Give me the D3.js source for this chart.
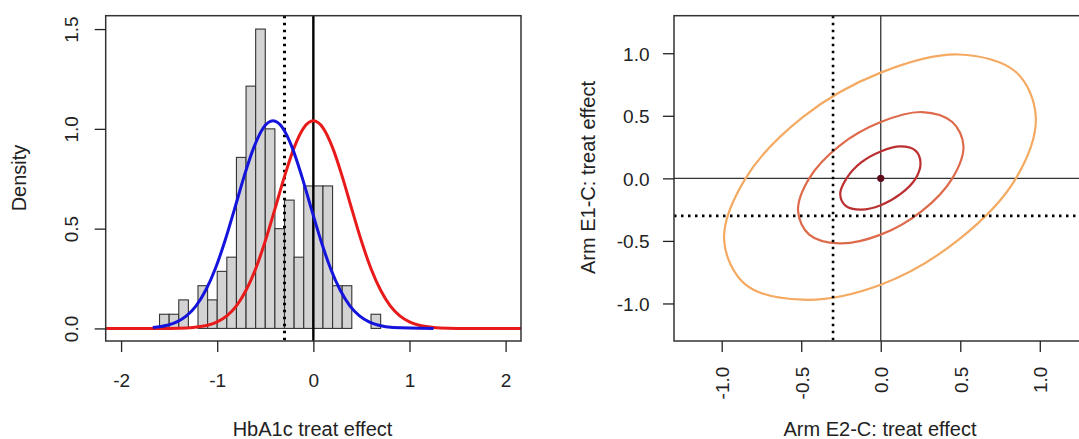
<!DOCTYPE html>
<html>
<head>
<meta charset="utf-8">
<script src="https://cdn.jsdelivr.net/npm/d3@7"></script>
<style>
  body { margin: 0; background: #fff; }
  svg { display: block; font-family: 'Liberation Sans', Arial, sans-serif; }
  .tick text { fill: #222; }
</style>
</head>
<body>
<div id="chart"></div>
<script>
// histogram of HbA1c treatment effect (bin width 0.1)
const binStarts = [-1.6, -1.5, -1.4, -1.3, -1.2, -1.1, -1.0, -0.9, -0.8, -0.7, -0.6, -0.5,
  -0.4, -0.3, -0.2, -0.1, 0.0, 0.1, 0.2, 0.3, 0.4, 0.5, 0.6];
const binDensity = [0.071, 0.071, 0.143, 0, 0.214, 0.143, 0.286, 0.357, 0.857, 1.214, 1.5, 1.0,
  0.5, 0.643, 0.357, 0.714, 0.714, 0.714, 0.214, 0.214, 0, 0, 0.071];
const binWidth = 0.1;

// blue density curve
const blueX = [-1.67, -1.52, -1.42, -1.32, -1.22, -1.12, -1.02, -0.92, -0.82, -0.72, -0.62, -0.52, -0.42,
  -0.32, -0.22, -0.12, -0.02, 0.08, 0.18, 0.28, 0.38, 0.48, 0.58, 0.68, 0.83, 1.25];
const blueY = [0.005, 0.016, 0.033, 0.063, 0.113, 0.191, 0.299, 0.438, 0.598, 0.762, 0.906, 1.005, 1.04,
  1.005, 0.906, 0.762, 0.598, 0.438, 0.299, 0.191, 0.113, 0.063, 0.033, 0.016, 0.005, 0.0];

// red density curve
const redX = [-2.16, -1.6, -1.4, -1.25, -1.1, -1.0, -0.9, -0.8, -0.7, -0.6, -0.5, -0.4, -0.3, -0.2, -0.1, 0,
  0.1, 0.2, 0.3, 0.4, 0.5, 0.6, 0.7, 0.8, 0.9, 1.0, 1.1, 1.25, 1.4, 1.6, 2.16];
const redY = [0, 0.0, 0.001, 0.005, 0.016, 0.033, 0.063, 0.113, 0.191, 0.299, 0.438, 0.598, 0.762, 0.906, 1.005, 1.04,
  1.005, 0.906, 0.762, 0.598, 0.438, 0.299, 0.191, 0.113, 0.063, 0.033, 0.016, 0.005, 0.001, 0.0, 0];

const histXTicks = [-2, -1, 0, 1, 2];
const histYTicks = [0, 0.5, 1.0, 1.5];
const histRefLines = { dotted: -0.3, solid: 0 };

// contour lines (E2-C on x, E1-C on y)
const outerX = [0.85, 0.49, 0, -0.49, -0.85, -0.985, -0.85, -0.49, 0, 0.49, 0.85, 0.975];
const outerY = [0.85, 0.99, 0.845, 0.49, 0, -0.49, -0.85, -0.97, -0.85, -0.49, 0, 0.49];
const middleX = [0.45, 0.26, 0, -0.26, -0.45, -0.52, -0.45, -0.26, 0, 0.26, 0.45, 0.52];
const middleY = [0.45, 0.53, 0.45, 0.26, 0, -0.26, -0.45, -0.52, -0.45, -0.26, 0, 0.26];
const innerX = [0.22, 0.125, 0, -0.125, -0.215, -0.255, -0.22, -0.125, 0, 0.125, 0.22, 0.25];
const innerY = [0.22, 0.255, 0.215, 0.125, 0, -0.125, -0.22, -0.25, -0.215, -0.125, 0, 0.125];
const contourColors = ['#f4aa62', '#de6a4c', '#bb2f30'];
const centerPoint = [0, 0];
const contourTicks = [-1.0, -0.5, 0.0, 0.5, 1.0];
const contourRef = -0.3;

const W = 1079, H = 439;
const svg = d3.select('#chart').append('svg')
  .attr('width', W)
  .attr('height', H);

const tickLen = 11;
// R prints a plain hyphen for negatives, not the unicode minus
const fmt1 = d => d.toFixed(1);
const fmt0 = d => String(d);

function drawHistogram() {
  const box = { left: 105.7, right: 521, top: 15.7, bottom: 341 };
  const x = d3.scaleLinear().domain([-2.16, 2.16]).range([box.left, box.right]);
  const y = d3.scaleLinear().domain([-0.063, 1.567]).range([box.bottom, box.top]);

  svg.append('clipPath').attr('id', 'clip-hist')
    .append('rect')
      .attr('x', box.left).attr('y', box.top)
      .attr('width', box.right - box.left).attr('height', box.bottom - box.top);

  const plot = svg.append('g').attr('clip-path', 'url(#clip-hist)');

  plot.selectAll('.bar')
    .data(binStarts.map((s, i) => ({ s, d: binDensity[i] })).filter(b => b.d > 0))
    .enter()
    .append('rect')
      .attr('x', d => x(d.s))
      .attr('y', d => y(d.d))
      .attr('width', d => x(d.s + binWidth) - x(d.s))
      .attr('height', d => y(0) - y(d.d))
      .attr('fill', '#d3d3d3')
      .attr('stroke', '#333')
      .attr('stroke-width', 1.1);

  plot.append('line')
    .attr('x1', x(histRefLines.dotted)).attr('x2', x(histRefLines.dotted))
    .attr('y1', box.top).attr('y2', box.bottom)
    .attr('stroke', '#000').attr('stroke-width', 3)
    .attr('stroke-dasharray', '2.5,4.5');

  plot.append('line')
    .attr('x1', x(histRefLines.solid)).attr('x2', x(histRefLines.solid))
    .attr('y1', box.top).attr('y2', box.bottom)
    .attr('stroke', '#000').attr('stroke-width', 2.4);

  const line = d3.line()
    .x(d => x(d[0]))
    .y(d => y(d[1]))
    .curve(d3.curveMonotoneX);

  plot.append('path')
    .datum(redX.map((v, i) => [v, redY[i]]))
    .attr('d', line)
    .attr('fill', 'none')
    .attr('stroke', '#e81a1a')
    .attr('stroke-width', 3);

  plot.append('path')
    .datum(blueX.map((v, i) => [v, blueY[i]]))
    .attr('d', line)
    .attr('fill', 'none')
    .attr('stroke', '#1414dc')
    .attr('stroke-width', 3);

  svg.append('rect')
    .attr('x', box.left).attr('y', box.top)
    .attr('width', box.right - box.left).attr('height', box.bottom - box.top)
    .attr('fill', 'none')
    .attr('stroke', '#333')
    .attr('stroke-width', 1.5);

  const xAxis = svg.append('g')
    .attr('transform', 'translate(0,' + box.bottom + ')')
    .call(d3.axisBottom(x).tickValues(histXTicks).tickSize(tickLen).tickSizeOuter(0).tickFormat(fmt0));
  xAxis.select('.domain').remove();
  xAxis.selectAll('line').attr('stroke', '#222').attr('stroke-width', 1.3);
  xAxis.selectAll('text')
    .attr('y', 45.5)
    .attr('dy', null)
    .style('font-size', '19px');

  const yAxis = svg.append('g')
    .attr('transform', 'translate(' + box.left + ',0)')
    .call(d3.axisLeft(y).tickValues(histYTicks).tickSize(tickLen).tickSizeOuter(0).tickFormat(fmt1));
  yAxis.select('.domain').remove();
  yAxis.selectAll('line').attr('stroke', '#222').attr('stroke-width', 1.3);
  yAxis.selectAll('text')
    .attr('x', null)
    .attr('dy', null)
    .attr('transform', 'translate(-27.4,0) rotate(-90)')
    .attr('text-anchor', 'middle')
    .style('font-size', '19px');

  svg.append('text')
    .attr('x', 312.5).attr('y', 435.7)
    .attr('text-anchor', 'middle')
    .attr('fill', '#222')
    .style('font-size', '20px')
    .text('HbA1c treat effect');

  svg.append('text')
    .attr('transform', 'translate(25.5,178) rotate(-90)')
    .attr('text-anchor', 'middle')
    .attr('fill', '#222')
    .style('font-size', '20px')
    .text('Density');
}

function drawContours() {
  const box = { left: 674, right: 1087.5, top: 15.7, bottom: 341 };
  const x = d3.scaleLinear().domain([-1.3, 1.3]).range([box.left, box.right]);
  const y = d3.scaleLinear().domain([-1.3, 1.3]).range([box.bottom, box.top]);

  svg.append('clipPath').attr('id', 'clip-cont')
    .append('rect')
      .attr('x', box.left).attr('y', box.top)
      .attr('width', box.right - box.left).attr('height', box.bottom - box.top);

  const plot = svg.append('g').attr('clip-path', 'url(#clip-cont)');

  // zero lines
  plot.append('line')
    .attr('x1', box.left).attr('x2', box.right)
    .attr('y1', y(0)).attr('y2', y(0))
    .attr('stroke', '#333').attr('stroke-width', 1.3);
  plot.append('line')
    .attr('x1', x(0)).attr('x2', x(0))
    .attr('y1', box.top).attr('y2', box.bottom)
    .attr('stroke', '#333').attr('stroke-width', 1.3);

  const contours = [
    outerX.map((v, i) => [v, outerY[i]]),
    middleX.map((v, i) => [v, middleY[i]]),
    innerX.map((v, i) => [v, innerY[i]])
  ];

  const ring = d3.line()
    .x(d => x(d[0]))
    .y(d => y(d[1]))
    .curve(d3.curveCatmullRomClosed);

  plot.selectAll('.contour')
    .data(contours)
    .enter()
    .append('path')
      .attr('d', ring)
      .attr('fill', 'none')
      .attr('stroke', (d, i) => contourColors[i])
      .attr('stroke-width', 2.2);

  plot.append('line')
    .attr('x1', x(contourRef)).attr('x2', x(contourRef))
    .attr('y1', box.top).attr('y2', box.bottom)
    .attr('stroke', '#000').attr('stroke-width', 2.6)
    .attr('stroke-dasharray', '2.5,4.5');
  plot.append('line')
    .attr('x1', box.left).attr('x2', box.right)
    .attr('y1', y(contourRef)).attr('y2', y(contourRef))
    .attr('stroke', '#000').attr('stroke-width', 2.6)
    .attr('stroke-dasharray', '2.5,4.5');

  plot.append('circle')
    .attr('cx', x(centerPoint[0]))
    .attr('cy', y(centerPoint[1]))
    .attr('r', 3.6)
    .attr('fill', '#5e0b1c');

  svg.append('rect')
    .attr('x', box.left).attr('y', box.top)
    .attr('width', box.right - box.left).attr('height', box.bottom - box.top)
    .attr('fill', 'none')
    .attr('stroke', '#333')
    .attr('stroke-width', 1.5);

  const xAxis = svg.append('g')
    .attr('transform', 'translate(0,' + box.bottom + ')')
    .call(d3.axisBottom(x).tickValues(contourTicks).tickSize(tickLen).tickSizeOuter(0).tickFormat(fmt1));
  xAxis.select('.domain').remove();
  xAxis.selectAll('line').attr('stroke', '#222').attr('stroke-width', 1.3);
  xAxis.selectAll('text')
    .attr('y', null)
    .attr('dy', null)
    .attr('transform', 'translate(7,25.7) rotate(-90)')
    .attr('text-anchor', 'end')
    .style('font-size', '19px');

  const yAxis = svg.append('g')
    .attr('transform', 'translate(' + box.left + ',0)')
    .call(d3.axisLeft(y).tickValues(contourTicks).tickSize(tickLen).tickSizeOuter(0).tickFormat(fmt1));
  yAxis.select('.domain').remove();
  yAxis.selectAll('line').attr('stroke', '#222').attr('stroke-width', 1.3);
  yAxis.selectAll('text')
    .attr('x', -24.5)
    .attr('dy', '0.36em')
    .style('font-size', '19px');

  svg.append('text')
    .attr('x', 880).attr('y', 435.7)
    .attr('text-anchor', 'middle')
    .attr('fill', '#222')
    .style('font-size', '20px')
    .text('Arm E2-C: treat effect');

  svg.append('text')
    .attr('transform', 'translate(595,177.5) rotate(-90)')
    .attr('text-anchor', 'middle')
    .attr('fill', '#222')
    .style('font-size', '20px')
    .text('Arm E1-C: treat effect');
}

drawHistogram();
drawContours();
</script>
</body>
</html>
